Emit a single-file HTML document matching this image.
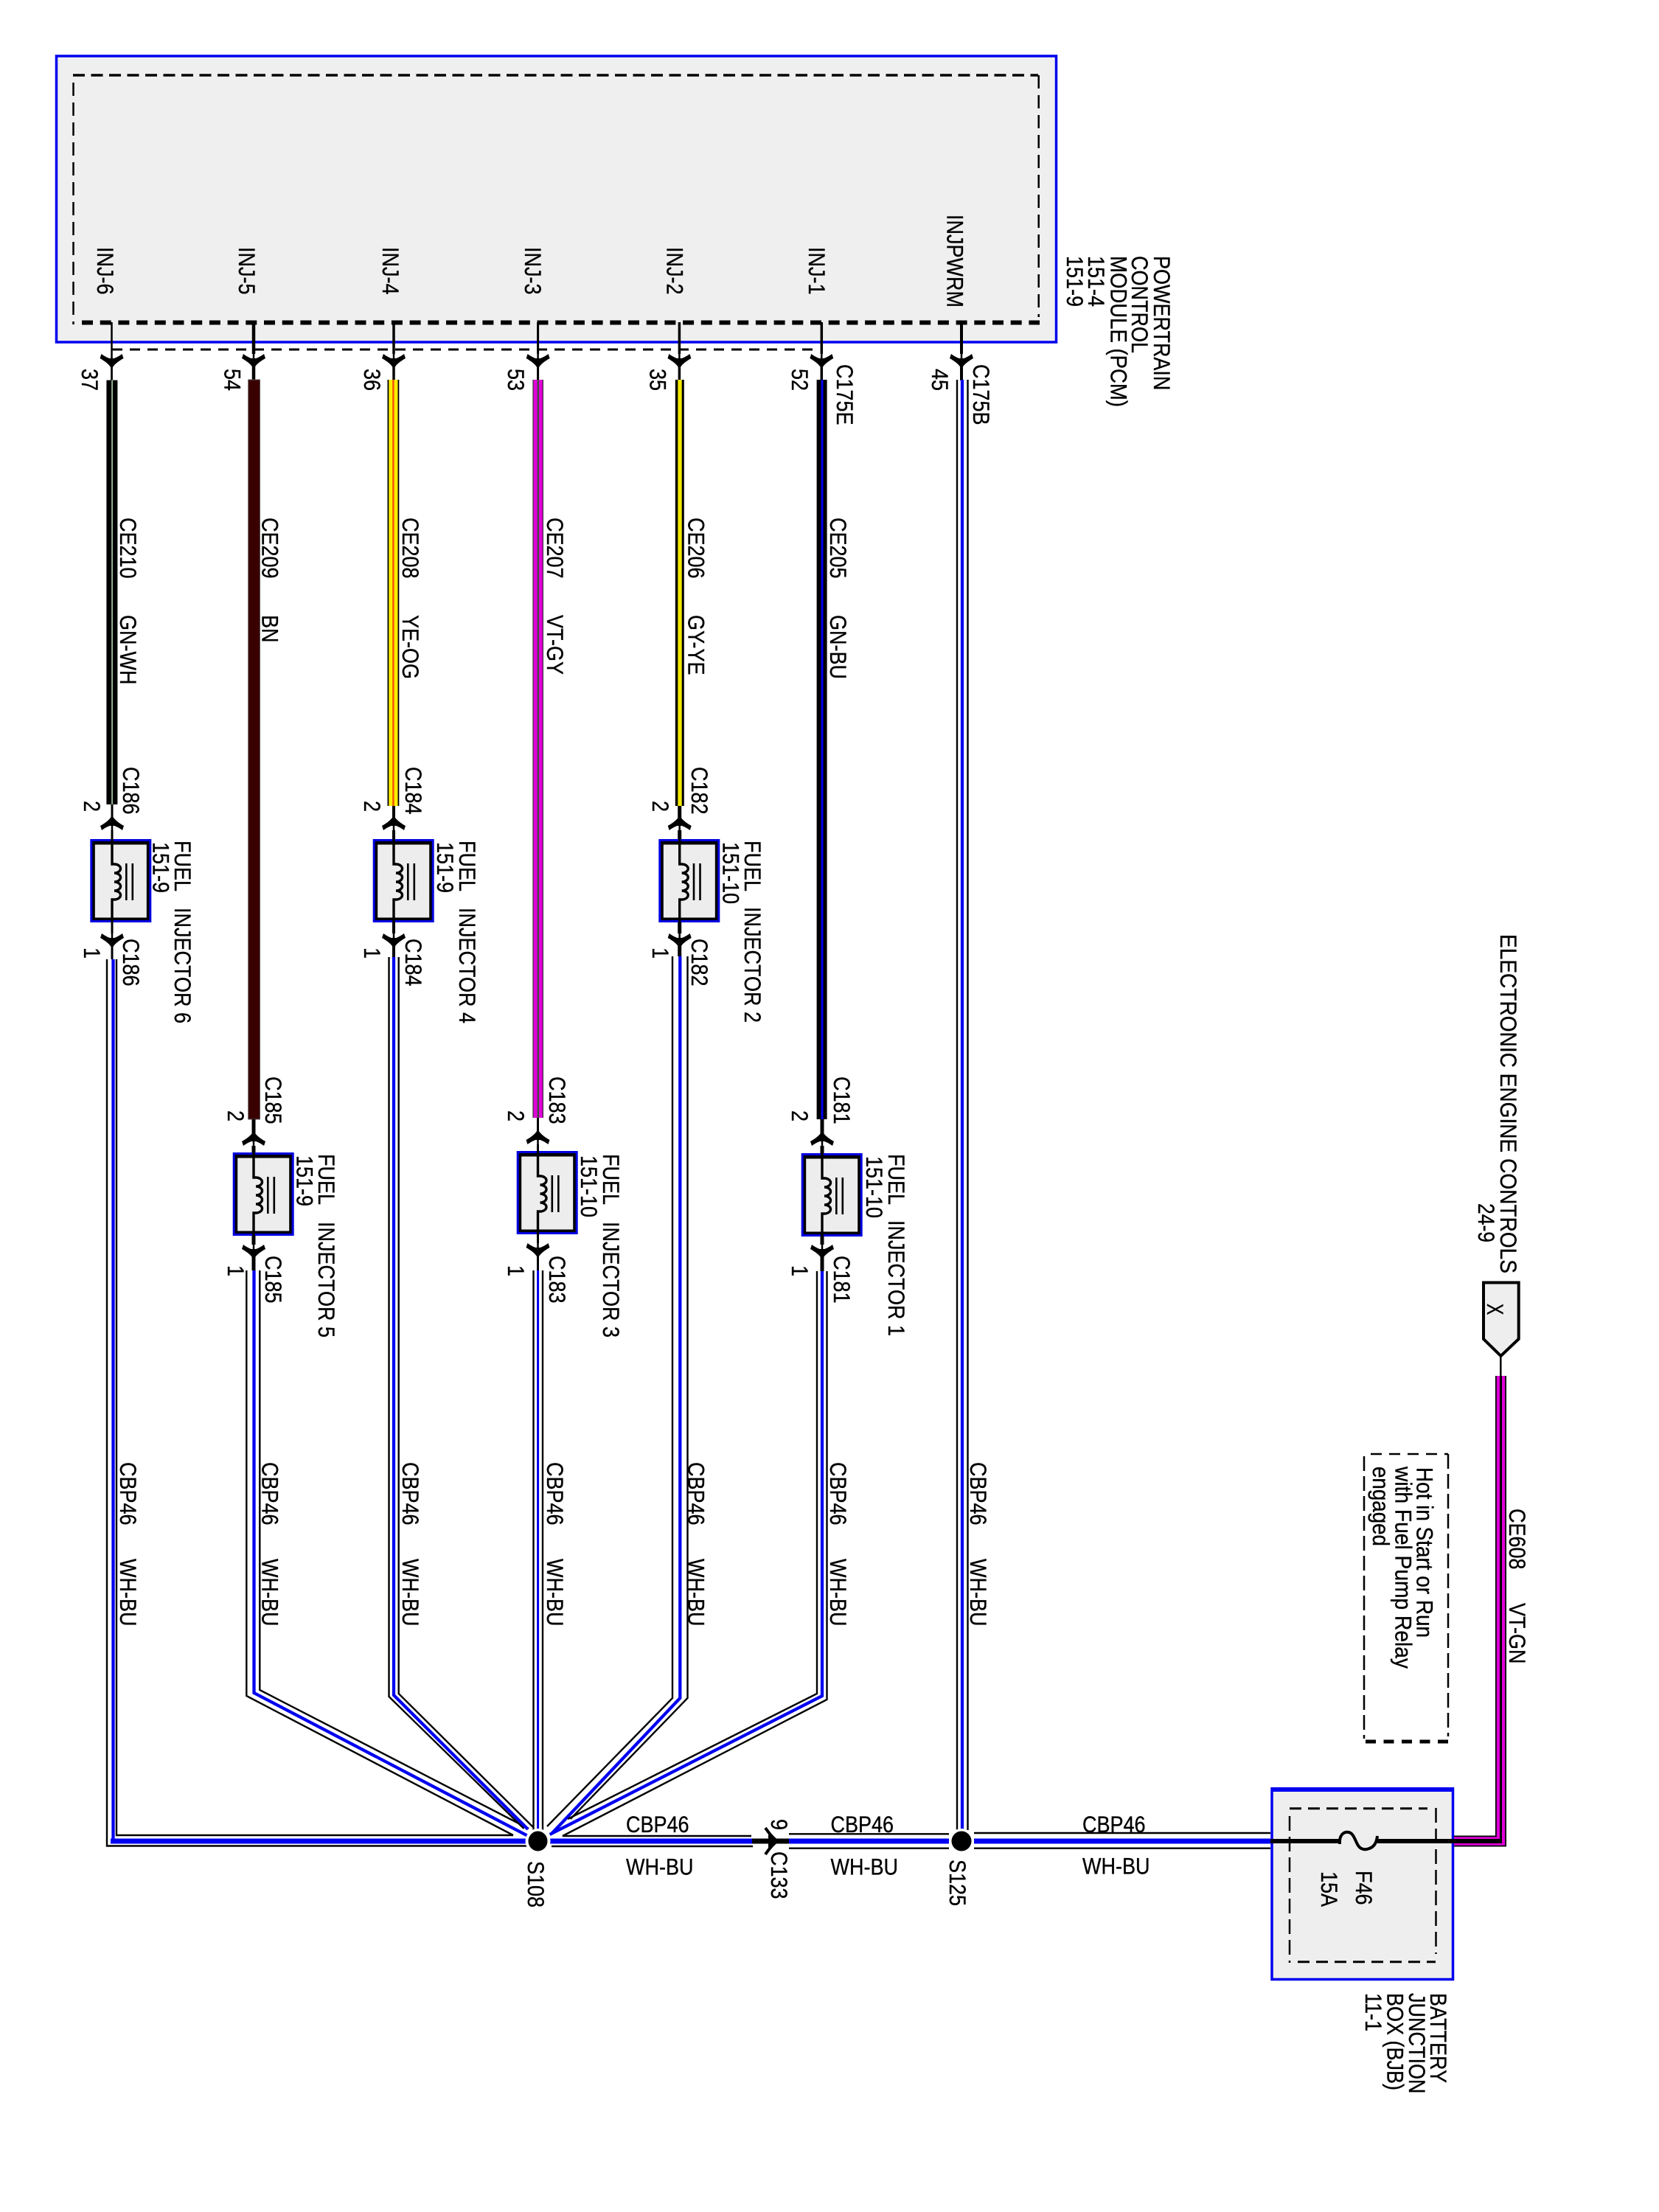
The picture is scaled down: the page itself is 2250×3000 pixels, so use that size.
<!DOCTYPE html>
<html>
<head>
<meta charset="utf-8">
<title>Fuel injector wiring diagram</title>
<style>
html,body{margin:0;padding:0;background:#fff}
svg{display:block}
text{font-family:"Liberation Sans",sans-serif;font-size:27px;fill:#000;stroke:#000;stroke-width:.3}
.l{fill:none;stroke:#000;stroke-width:2.4}
.b{fill:none;stroke:#0000f0;stroke-width:4.3}
.h{fill:none;stroke:#0000f0;stroke-width:7}
.s{fill:none;stroke:#000}
</style>
</head>
<body>
<svg xmlns="http://www.w3.org/2000/svg" width="2250" height="3000" viewBox="0 0 2250 3000">
<defs>
<g id="ad"><path d="M0 0C-2-6-9-11-16-15L-14-21C-10-18-6-16-3-15L3-15C6-16 10-18 14-21L16-15C9-11 2-6 0 0Z" fill="#000"/><rect x="-2.5" y="-21" width="5" height="6" fill="#fff"/></g>
<g id="box"><rect width="83" height="113" fill="#0000e0"/><rect x="3" y="3" width="77" height="107" fill="#000"/><rect x="6.5" y="7.5" width="70" height="99" fill="#ededed"/></g>
<path id="coil" d="M0 0V34H3A8.5 6 0 0 1 3 46A8.5 6 0 0 1 3 58A8.5 6 0 0 1 3 70A8.5 6 0 0 1 3 82H0V113" fill="none" stroke="#000" stroke-width="3.4"/>
<g id="core"><rect x="18" y="33" width="2.6" height="50" fill="#000"/><rect x="26.5" y="33" width="2.6" height="50" fill="#000"/></g>
</defs>
<rect width="2250" height="3000" fill="#fff"/>

<!-- PCM -->
<rect x="76.5" y="76" width="1356" height="388" fill="#efefef" stroke="#0000f0" stroke-width="3.5"/>
<path d="M99 102H1408" class="s" stroke-width="3.5" stroke-dasharray="16 8.5"/>
<path d="M111 437.5H1410" class="s" stroke-width="6" stroke-dasharray="15 9.7"/>
<path d="M99.5 112V440" class="s" stroke-width="2.5" stroke-dasharray="18 9"/>
<path d="M1408.7 102V430" class="s" stroke-width="2.5" stroke-dasharray="18 9"/>
<path d="M152 474H1103" class="s" stroke-width="3" stroke-dasharray="14 10"/>

<!-- pin stubs at PCM -->
<path d="M151.5 437V516" class="s" stroke-width="2.5"/>
<path d="M344 437V516" class="s" stroke-width="4.5"/>
<path d="M534 437V516" class="s" stroke-width="3.5"/>
<path d="M729.6 437V516" class="s" stroke-width="3"/>
<path d="M921.4 437V516" class="s" stroke-width="3.5"/>
<path d="M1114.3 437V516" class="s" stroke-width="3.5"/>
<path d="M1304 437V516" class="s" stroke-width="4"/>
<use href="#ad" transform="translate(151.5 501)"/>
<use href="#ad" transform="translate(344 501)"/>
<use href="#ad" transform="translate(534 501)"/>
<use href="#ad" transform="translate(729.6 501)"/>
<use href="#ad" transform="translate(921.4 501)"/>
<use href="#ad" transform="translate(1114.3 501)"/>
<use href="#ad" transform="translate(1304 501)"/>
<path d="M151.5 480V516M344 480V516M534 480V516M729.6 480V516M921.4 480V516M1114.3 480V516M1304 480V516" class="s" stroke-width="2.5"/>

<!-- coloured wires -->
<rect x="144.4" y="515.6" width="15" height="575.4" fill="#000"/>
<rect x="151.3" y="515.6" width="1.5" height="575.4" fill="#bfe8bf"/>
<rect x="336.7" y="515" width="15.8" height="1003" fill="#3a0000" stroke="#555" stroke-width="1"/>
<rect x="525.5" y="515" width="15.8" height="578" fill="#000"/>
<rect x="527.3" y="515" width="12.2" height="578" fill="#ffee00"/>
<rect x="532.2" y="515" width="2.4" height="578" fill="#f05000"/>
<rect x="722.4" y="515" width="14.6" height="1001" fill="#333"/>
<rect x="723.6" y="515" width="12.2" height="1001" fill="#e000d8"/>
<rect x="728.6" y="515" width="2.4" height="1001" fill="#444"/>
<rect x="915.8" y="515" width="12" height="578" fill="#000"/>
<rect x="919.3" y="515" width="5.4" height="578" fill="#f4e800"/>
<rect x="1107.6" y="515" width="14" height="1003" fill="#000"/>
<rect x="1113.5" y="515" width="3" height="1003" fill="#0000f0"/>

<!-- wire 45 -->
<path d="M1298 515V2482M1312.5 515V2482" class="l"/>
<path d="M1305 515V2482" class="b"/>

<!-- Injector stubs and arrows -->
<path d="M152 1091V1138M152 1251V1301" class="s" stroke-width="3"/>
<path d="M534 1093V1138M534 1251V1298" class="s" stroke-width="4"/>
<path d="M921.7 1093V1138M921.7 1251V1297" class="s" stroke-width="5"/>
<path d="M344 1518V1563M344 1676V1723" class="s" stroke-width="5"/>
<path d="M729.5 1516V1561M729.5 1673V1723" class="s" stroke-width="3"/>
<path d="M1115 1518V1564M1115 1676V1724" class="s" stroke-width="5"/>

<use href="#ad" transform="translate(152 1105) scale(1 -1)"/>
<use href="#ad" transform="translate(152 1287)"/>
<use href="#ad" transform="translate(534 1105) scale(1 -1)"/>
<use href="#ad" transform="translate(534 1287)"/>
<use href="#ad" transform="translate(921.7 1105) scale(1 -1)"/>
<use href="#ad" transform="translate(921.7 1287)"/>
<use href="#ad" transform="translate(344 1533) scale(1 -1)"/>
<use href="#ad" transform="translate(344 1709)"/>
<use href="#ad" transform="translate(729.5 1531) scale(1 -1)"/>
<use href="#ad" transform="translate(729.5 1707)"/>
<use href="#ad" transform="translate(1115 1533) scale(1 -1)"/>
<use href="#ad" transform="translate(1115 1709)"/>
<path d="M152 1100V1130M152 1260V1292M534 1100V1130M534 1260V1292M921.7 1100V1130M921.7 1260V1292M344 1530V1556M344 1685V1715M729.5 1528V1554M729.5 1683V1713M1115 1530V1556M1115 1685V1715" class="s" stroke-width="2.5"/>

<!-- Injector boxes -->
<use href="#box" x="122.3" y="1138"/><use href="#coil" x="152" y="1138"/><use href="#core" x="152" y="1138"/>
<use href="#box" x="505.7" y="1138"/><use href="#coil" x="534" y="1138"/><use href="#core" x="534" y="1138"/>
<use href="#box" x="893.3" y="1138"/><use href="#coil" x="921.7" y="1138"/><use href="#core" x="921.7" y="1138"/>
<use href="#box" x="315.7" y="1563"/><use href="#coil" x="344" y="1563"/><use href="#core" x="344" y="1563"/>
<use href="#box" x="700.7" y="1561"/><use href="#coil" x="729.5" y="1561"/><use href="#core" x="729.5" y="1561"/>
<use href="#box" x="1086.7" y="1564"/><use href="#coil" x="1115" y="1564"/><use href="#core" x="1115" y="1564"/>

<!-- Lower wires -->
<path d="M145 1301V2503.5H716" class="l"/>
<path d="M158 1301V2489H696" class="l"/>
<path d="M153.5 1301V2497" class="b"/>
<path d="M150 2497H716" class="h"/>

<path d="M334.3 1723V2300L696 2489" class="l"/>
<path d="M352.3 1723V2292L717 2480" class="l"/>
<path d="M344.5 1723V2296L716 2490" class="b"/>

<path d="M527.5 1298V2301L710.5 2480" class="l"/>
<path d="M540.7 1298V2297L723 2478" class="l"/>
<path d="M534 1298V2299L716 2481" class="b"/>

<path d="M723.5 1723V2482M736 1723V2482" class="l"/>
<path d="M729.6 1723V2482" class="b" style="stroke-width:3"/>

<path d="M912 1297V2303L742 2477" class="l"/>
<path d="M932.5 1297V2303L773.7 2467" class="l"/>
<path d="M922.3 1297V2303L749 2486" class="b"/>

<path d="M1108 1724V2297L770 2467" class="l"/>
<path d="M1121.5 1724V2305L763 2490H1019" class="l"/>
<path d="M1115 1724V2300L745.6 2488" class="b"/>

<path d="M748 2504H1021" class="l"/>
<path d="M745 2497H1021" class="h"/>

<!-- C133 -->
<path d="M1020 2497H1070" class="s" stroke-width="7"/>
<path d="M1038 2479Q1046 2491 1054 2497Q1046 2503 1038 2515" class="s" stroke-width="4"/>
<path d="M1042 2488L1056 2497L1042 2506Z" fill="#000"/>

<path d="M1070 2487.3H1287M1070 2506.7H1287" class="l"/>
<path d="M1070 2497H1287" class="h"/>
<path d="M1321 2486H1723M1321 2506.7H1723" class="l"/>
<path d="M1321 2497H1723" class="h"/>

<!-- Splices -->
<circle cx="729.5" cy="2497" r="17" fill="#fff"/>
<ellipse cx="729.5" cy="2497" rx="13" ry="13.5" fill="#000"/>
<circle cx="1304" cy="2497" r="17" fill="#fff"/>
<ellipse cx="1304" cy="2497" rx="13.5" ry="13.5" fill="#000"/>

<!-- BJB -->
<rect x="1725" y="2426" width="245.5" height="258.5" fill="#eee" stroke="#0000f0" stroke-width="3.5"/>
<rect x="1723.5" y="2424" width="248.5" height="6" fill="#0000f0"/>
<path d="M1749 2452.7H1936" class="s" stroke-width="3" stroke-dasharray="16 9"/>
<path d="M1760 2660.7H1947" class="s" stroke-width="3" stroke-dasharray="16 9"/>
<path d="M1749 2463V2662" class="s" stroke-width="2.5" stroke-dasharray="20 8"/>
<path d="M1947.5 2452V2650" class="s" stroke-width="2.5" stroke-dasharray="20 8"/>

<!-- VT-GN wire -->
<path d="M2035.5 1866V2497H1972" fill="none" stroke="#000" stroke-width="15" stroke-linejoin="miter"/>
<path d="M2035.5 1866V2497H1972" fill="none" stroke="#e000d8" stroke-width="11.5" stroke-linejoin="miter"/>
<path d="M2035.5 1866V2497" class="s" stroke-width="3"/>
<path d="M1972 2497H2037" class="s" stroke-width="6"/>
<path d="M2035.3 1840V1866" class="s" stroke-width="2.5"/>

<!-- Fuse -->
<path d="M1723 2497H1817" class="s" stroke-width="6"/>
<path d="M1868 2497H1972" class="s" stroke-width="6"/>
<path d="M1817 2501V2496C1818 2486 1825 2484 1829 2485C1836 2486 1838 2497 1842 2503C1846 2509 1852 2509 1857 2507C1863 2505 1867 2500 1868 2490" class="s" stroke-width="4"/>

<!-- Pentagon -->
<path d="M2012 1739.5H2059.7V1816L2035.5 1839L2012 1816Z" fill="#eee" stroke="#000" stroke-width="4"/>

<!-- Note box -->
<path d="M1859 1972H1964" class="s" stroke-width="2.5" stroke-dasharray="15 10"/>
<path d="M1852 2362H1965" class="s" stroke-width="5" stroke-dasharray="14 10.5"/>
<path d="M1850 1975V2358" class="s" stroke-width="2.5" stroke-dasharray="20 7"/>
<path d="M1964 1972V2355" class="s" stroke-width="2.5" stroke-dasharray="20 7"/>

<!-- PCM labels -->
<text transform="translate(132 335) rotate(90) scale(1 1.18)">INJ-6</text>
<text transform="translate(324 335) rotate(90) scale(1 1.18)">INJ-5</text>
<text transform="translate(519 335) rotate(90) scale(1 1.18)">INJ-4</text>
<text transform="translate(712 335) rotate(90) scale(1 1.18)">INJ-3</text>
<text transform="translate(904.6 335) rotate(90) scale(1 1.18)">INJ-2</text>
<text transform="translate(1097 335) rotate(90) scale(1 1.18)">INJ-1</text>
<text transform="translate(1284.7 291) rotate(90) scale(1 1.18)">INJPWRM</text>

<text transform="translate(1565 347) rotate(90) scale(1 1.18)">POWERTRAIN</text>
<text transform="translate(1535 347) rotate(90) scale(1 1.18)">CONTROL</text>
<text transform="translate(1506.6 347) rotate(90) scale(1 1.18)" textLength="205" lengthAdjust="spacingAndGlyphs">MODULE (PCM)</text>
<text transform="translate(1476 347) rotate(90) scale(1 1.18)">151-4</text>
<text transform="translate(1447 347) rotate(90) scale(1 1.18)">151-9</text>

<!-- Pin numbers -->
<text transform="translate(111 500) rotate(90) scale(1 1.18)">37</text>
<text transform="translate(304.6 500) rotate(90) scale(1 1.18)">54</text>
<text transform="translate(494 500) rotate(90) scale(1 1.18)">36</text>
<text transform="translate(689 500) rotate(90) scale(1 1.18)">53</text>
<text transform="translate(881.6 500) rotate(90) scale(1 1.18)">35</text>
<text transform="translate(1074 500) rotate(90) scale(1 1.18)">52</text>
<text transform="translate(1264 500) rotate(90) scale(1 1.18)">45</text>
<text transform="translate(1135 494) rotate(90) scale(1 1.18)">C175E</text>
<text transform="translate(1320 494) rotate(90) scale(1 1.18)">C175B</text>

<!-- Wire labels -->
<text transform="translate(163 702) rotate(90) scale(1 1.18)">CE210</text>
<text transform="translate(163 834) rotate(90) scale(1 1.18)">GN-WH</text>
<text transform="translate(355.7 702) rotate(90) scale(1 1.18)">CE209</text>
<text transform="translate(355.7 834) rotate(90) scale(1 1.18)">BN</text>
<text transform="translate(546 702) rotate(90) scale(1 1.18)">CE208</text>
<text transform="translate(546 834) rotate(90) scale(1 1.18)">YE-OG</text>
<text transform="translate(742 702) rotate(90) scale(1 1.18)">CE207</text>
<text transform="translate(742 834) rotate(90) scale(1 1.18)">VT-GY</text>
<text transform="translate(933.5 702) rotate(90) scale(1 1.18)">CE206</text>
<text transform="translate(933.5 834) rotate(90) scale(1 1.18)">GY-YE</text>
<text transform="translate(1126 702) rotate(90) scale(1 1.18)">CE205</text>
<text transform="translate(1126 834) rotate(90) scale(1 1.18)">GN-BU</text>

<text transform="translate(163 1983) rotate(90) scale(1 1.18)">CBP46</text>
<text transform="translate(163 2114) rotate(90) scale(1 1.18)">WH-BU</text>
<text transform="translate(355.7 1983) rotate(90) scale(1 1.18)">CBP46</text>
<text transform="translate(355.7 2114) rotate(90) scale(1 1.18)">WH-BU</text>
<text transform="translate(546 1983) rotate(90) scale(1 1.18)">CBP46</text>
<text transform="translate(546 2114) rotate(90) scale(1 1.18)">WH-BU</text>
<text transform="translate(742 1983) rotate(90) scale(1 1.18)">CBP46</text>
<text transform="translate(742 2114) rotate(90) scale(1 1.18)">WH-BU</text>
<text transform="translate(933.5 1983) rotate(90) scale(1 1.18)">CBP46</text>
<text transform="translate(933.5 2114) rotate(90) scale(1 1.18)">WH-BU</text>
<text transform="translate(1126 1983) rotate(90) scale(1 1.18)">CBP46</text>
<text transform="translate(1126 2114) rotate(90) scale(1 1.18)">WH-BU</text>
<text transform="translate(1316 1983) rotate(90) scale(1 1.18)">CBP46</text>
<text transform="translate(1316 2114) rotate(90) scale(1 1.18)">WH-BU</text>

<!-- injector 6 -->
<text transform="translate(167 1040) rotate(90) scale(1 1.18)">C186</text>
<text transform="translate(167 1273) rotate(90) scale(1 1.18)">C186</text>
<text transform="translate(114 1086) rotate(90) scale(1 1.18)">2</text>
<text transform="translate(114 1285) rotate(90) scale(1 1.18)">1</text>
<text transform="translate(237 1140) rotate(90) scale(1 1.18)">FUEL</text>
<text transform="translate(237 1231) rotate(90) scale(1 1.18)">INJECTOR 6</text>
<text transform="translate(207.7 1142) rotate(90) scale(1 1.18)">151-9</text>

<!-- injector 4 -->
<text transform="translate(550 1040) rotate(90) scale(1 1.18)">C184</text>
<text transform="translate(550 1273) rotate(90) scale(1 1.18)">C184</text>
<text transform="translate(494 1086) rotate(90) scale(1 1.18)">2</text>
<text transform="translate(494 1285) rotate(90) scale(1 1.18)">1</text>
<text transform="translate(623 1140) rotate(90) scale(1 1.18)">FUEL</text>
<text transform="translate(623 1231) rotate(90) scale(1 1.18)">INJECTOR 4</text>
<text transform="translate(593 1142) rotate(90) scale(1 1.18)">151-9</text>

<!-- injector 2 -->
<text transform="translate(938 1040) rotate(90) scale(1 1.18)">C182</text>
<text transform="translate(938 1273) rotate(90) scale(1 1.18)">C182</text>
<text transform="translate(885 1086) rotate(90) scale(1 1.18)">2</text>
<text transform="translate(885 1285) rotate(90) scale(1 1.18)">1</text>
<text transform="translate(1010 1140) rotate(90) scale(1 1.18)">FUEL</text>
<text transform="translate(1010 1230) rotate(90) scale(1 1.18)">INJECTOR 2</text>
<text transform="translate(980.7 1142) rotate(90) scale(1 1.18)">151-10</text>

<!-- injector 5 -->
<text transform="translate(360 1460) rotate(90) scale(1 1.18)">C185</text>
<text transform="translate(360 1703) rotate(90) scale(1 1.18)">C185</text>
<text transform="translate(309 1506) rotate(90) scale(1 1.18)">2</text>
<text transform="translate(309 1716) rotate(90) scale(1 1.18)">1</text>
<text transform="translate(432 1565) rotate(90) scale(1 1.18)">FUEL</text>
<text transform="translate(432 1657) rotate(90) scale(1 1.18)">INJECTOR 5</text>
<text transform="translate(402.7 1567) rotate(90) scale(1 1.18)">151-9</text>

<!-- injector 3 -->
<text transform="translate(745 1460) rotate(90) scale(1 1.18)">C183</text>
<text transform="translate(745 1703) rotate(90) scale(1 1.18)">C183</text>
<text transform="translate(689 1506) rotate(90) scale(1 1.18)">2</text>
<text transform="translate(689 1716) rotate(90) scale(1 1.18)">1</text>
<text transform="translate(818 1565) rotate(90) scale(1 1.18)">FUEL</text>
<text transform="translate(818 1657) rotate(90) scale(1 1.18)">INJECTOR 3</text>
<text transform="translate(788 1567) rotate(90) scale(1 1.18)">151-10</text>

<!-- injector 1 -->
<text transform="translate(1131 1460) rotate(90) scale(1 1.18)">C181</text>
<text transform="translate(1131 1703) rotate(90) scale(1 1.18)">C181</text>
<text transform="translate(1074 1506) rotate(90) scale(1 1.18)">2</text>
<text transform="translate(1074 1716) rotate(90) scale(1 1.18)">1</text>
<text transform="translate(1205 1565) rotate(90) scale(1 1.18)">FUEL</text>
<text transform="translate(1205 1655) rotate(90) scale(1 1.18)">INJECTOR 1</text>
<text transform="translate(1175 1568) rotate(90) scale(1 1.18)">151-10</text>

<!-- Splice and inline labels -->
<text transform="translate(716 2524) rotate(90) scale(1 1.18)">S108</text>
<text transform="translate(1288 2522) rotate(90) scale(1 1.18)">S125</text>
<text transform="translate(1046 2511) rotate(90) scale(1 1.18)">C133</text>
<text transform="translate(1046 2467) rotate(90) scale(1 1.18)">9</text>

<text transform="translate(849 2485) scale(1 1.18)">CBP46</text>
<text transform="translate(849 2542.5) scale(1 1.18)">WH-BU</text>
<text transform="translate(1126.5 2485) scale(1 1.18)">CBP46</text>
<text transform="translate(1126.5 2542.5) scale(1 1.18)">WH-BU</text>
<text transform="translate(1468 2485) scale(1 1.18)">CBP46</text>
<text transform="translate(1468 2541.7) scale(1 1.18)">WH-BU</text>

<!-- BJB labels -->
<text transform="translate(1839 2537) rotate(90) scale(1 1.18)">F46</text>
<text transform="translate(1792 2538) rotate(90) scale(1 1.18)">15A</text>
<text transform="translate(1940 2703) rotate(90) scale(1 1.18)">BATTERY</text>
<text transform="translate(1911 2703) rotate(90) scale(1 1.18)">JUNCTION</text>
<text transform="translate(1881.6 2703) rotate(90) scale(1 1.18)">BOX (BJB)</text>
<text transform="translate(1852 2703) rotate(90) scale(1 1.18)">11-1</text>

<!-- Right side labels -->
<text transform="translate(2035 1267) rotate(90) scale(1 1.18)" textLength="460" lengthAdjust="spacingAndGlyphs">ELECTRONIC ENGINE CONTROLS</text>
<text transform="translate(2005 1632) rotate(90) scale(1 1.18)" textLength="53" lengthAdjust="spacingAndGlyphs">24-9</text>
<text transform="translate(2017 1768) rotate(90) scale(1 1.38)" style="font-size:23px">X</text>
<text transform="translate(2047 2046) rotate(90) scale(1 1.18)">CE608</text>
<text transform="translate(2047 2174) rotate(90) scale(1 1.18)">VT-GN</text>
<text transform="translate(1921.7 1990) rotate(90) scale(1 1.18)" textLength="231" lengthAdjust="spacingAndGlyphs">Hot in Start or Run</text>
<text transform="translate(1892.7 1989) rotate(90) scale(1 1.18)" textLength="274" lengthAdjust="spacingAndGlyphs">with Fuel Pump Relay</text>
<text transform="translate(1862 1989) rotate(90) scale(1 1.18)" textLength="108" lengthAdjust="spacingAndGlyphs">engaged</text>
</svg>
</body>
</html>
